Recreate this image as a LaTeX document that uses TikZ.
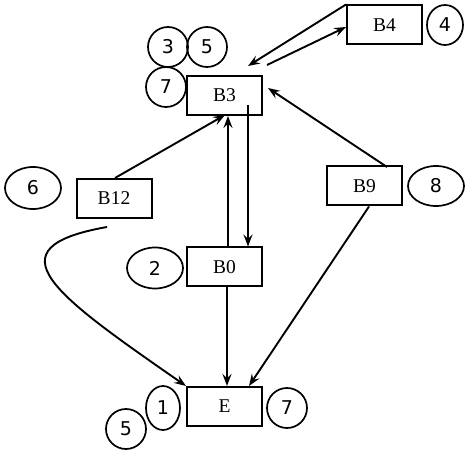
\documentclass[tikz,border=0pt]{standalone}
\usepackage{fontspec}
\setmainfont{Liberation Serif}
\newfontfamily\numfont{DejaVu Sans}
\usetikzlibrary{arrows.meta,shapes.geometric}
\begin{document}
\begin{tikzpicture}[x=1pt,y=-1pt,
  blk/.style={draw,line width=2pt,minimum width=75pt,minimum height=39pt,inner sep=0pt,font=\fontsize{19.5}{20}\selectfont},
  num/.style={draw,ellipse,line width=1.7pt,inner sep=0pt,font=\numfont\fontsize{19}{20}\selectfont},
  conn/.style={line width=1.9pt,-{Stealth[length=12pt,width=9pt,inset=4.5pt]}}]
\useasboundingbox (0,0) rectangle (474,454);
% blocks
\node[blk] (B4) at (384.5,25) {B4};
\node[blk] (B3) at (224.5,95.5) {B3};
\node[blk] (B12) at (114,198.5) {B12};
\node[blk] (B9) at (364.5,186) {B9};
\node[blk] (B0) at (224.5,267) {B0};
\node[blk] (E) at (224.5,406.5) {E};
% numbers
\node[num,minimum width=36pt,minimum height=40pt] (n4) at (445,25) {4};
\node[num,minimum width=40pt,minimum height=40pt] (n3) at (168,47) {3};
\node[num,minimum width=40pt,minimum height=40pt] (n5a) at (207,47) {5};
\node[num,minimum width=40pt,minimum height=40pt] (n7a) at (166,87) {7};
\node[num,minimum width=56pt,minimum height=42pt] (n6) at (33,188) {6};
\node[num,minimum width=56pt,minimum height=41pt] (n2) at (155,268) {2};
\node[num,minimum width=56pt,minimum height=40pt] (n8) at (436,186) {8};
\node[num,minimum width=34pt,minimum height=44pt] (n1) at (163,408) {1};
\node[num,minimum width=40pt,minimum height=40pt] (n5b) at (126,429) {5};
\node[num,minimum width=40pt,minimum height=40pt] (n7b) at (287,408) {7};
% connector ends
\coordinate (b3in1) at (248,66);
\coordinate (b3out1) at (267,65);
\coordinate (b4in) at (346,27);
\coordinate (b3in2) at (268,88);
\coordinate (b9top) at (387,167);
\coordinate (b12top) at (115,178);
\coordinate (b3in3) at (225,115);
\coordinate (b12out) at (107,227);
% connectors
\draw[conn] (B4.north west) -- (b3in1);
\draw[conn] (b3out1) -- (b4in);
\draw[conn] (b9top) -- (b3in2);
\draw[conn] (b12top) -- (b3in3);
\draw[conn] ([xshift=3.5pt]B0.north) -- ([xshift=3.5pt]B3.south);
\draw[conn] ([xshift=23.5pt,yshift=11pt]B3.south) -- ([xshift=23.5pt]B0.north);
\draw[conn] ([xshift=2.5pt]B0.south) -- ([xshift=2.5pt]E.north);
\draw[conn] ([xshift=4.5pt]B9.south) -- ([xshift=24.5pt]E.north);
\draw[conn] (b12out) .. controls (-12,248) and (55,295) .. (E.north west);
\end{tikzpicture}
\end{document}
